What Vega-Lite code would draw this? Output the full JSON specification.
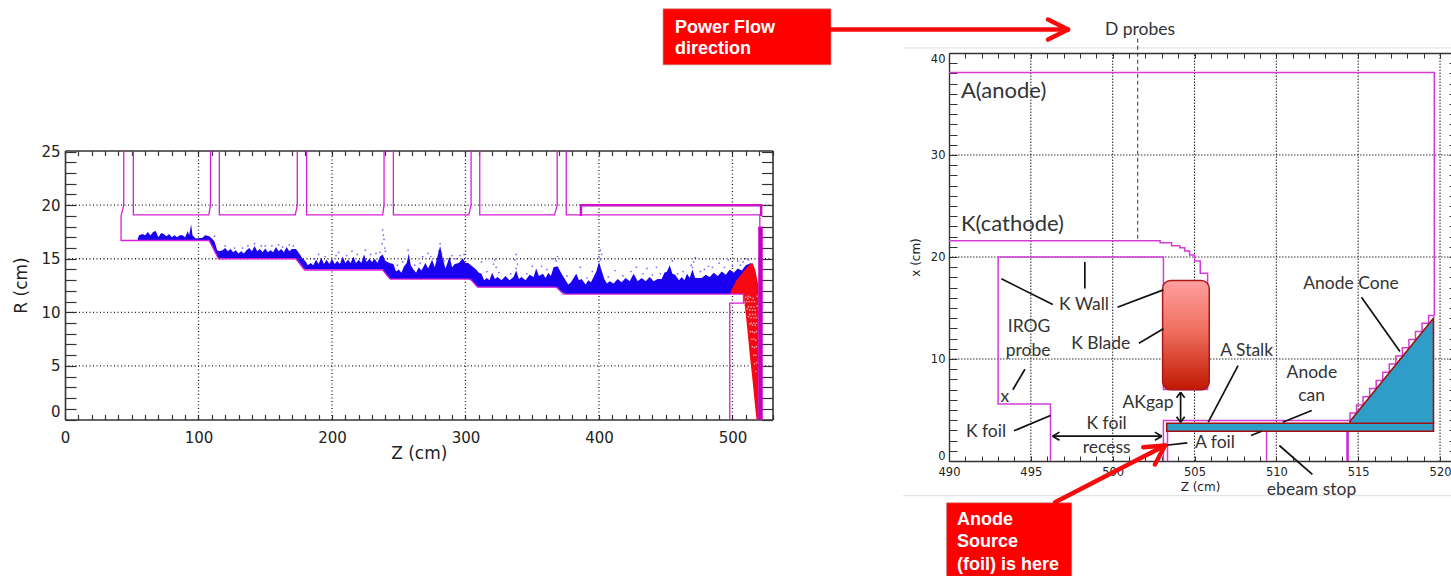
{"$schema":"https://vega.github.io/schema/vega-lite/v6.json","background":"white","padding":{"left":12,"top":8,"right":0,"bottom":0},"bounds":"flush","spacing":176,"config":{"view":{"stroke":null}},"datasets":{
"lGridX":[{"z":100,"r":0,"r2":25.1},{"z":200,"r":0,"r2":25.1},{"z":300,"r":0,"r2":25.1},{"z":400,"r":0,"r2":25.1},{"z":500,"r":0,"r2":25.1}],
"lGridY":[{"z":0,"z2":530,"r":5},{"z":0,"z2":530,"r":10},{"z":0,"z2":530,"r":15},{"z":0,"z2":530,"r":20}],
"lThin":[
{"p":"a","o":1,"z":498.5,"r":11.7},{"p":"a","o":2,"z":373.5,"r":11.7},{"p":"a","o":3,"z":368,"r":12.35},{"p":"a","o":4,"z":309,"r":12.35},{"p":"a","o":5,"z":303.7,"r":13.1},{"p":"a","o":6,"z":243.7,"r":13.1},{"p":"a","o":7,"z":238,"r":13.95},{"p":"a","o":8,"z":179.5,"r":13.95},{"p":"a","o":9,"z":173,"r":15},{"p":"a","o":10,"z":115,"r":15},{"p":"a","o":11,"z":108,"r":16.7},{"p":"a","o":12,"z":42,"r":16.7},{"p":"a","o":13,"z":42,"r":19},{"p":"a","o":14,"z":44,"r":20},{"p":"a","o":15,"z":44,"r":25.1},
{"p":"b","o":1,"z":51.2,"r":25.1},{"p":"b","o":2,"z":51.2,"r":19.1},{"p":"b","o":3,"z":107.7,"r":19.1},{"p":"b","o":4,"z":109,"r":20},{"p":"b","o":5,"z":109,"r":25.1},
{"p":"c","o":1,"z":115.6,"r":25.1},{"p":"c","o":2,"z":115.6,"r":19.1},{"p":"c","o":3,"z":172.5,"r":19.1},{"p":"c","o":4,"z":174,"r":20},{"p":"c","o":5,"z":174,"r":25.1},
{"p":"d","o":1,"z":181,"r":25.1},{"p":"d","o":2,"z":181,"r":19.1},{"p":"d","o":3,"z":238,"r":19.1},{"p":"d","o":4,"z":239,"r":20},{"p":"d","o":5,"z":239,"r":25.1},
{"p":"e","o":1,"z":246,"r":25.1},{"p":"e","o":2,"z":246,"r":19.1},{"p":"e","o":3,"z":302.5,"r":19.1},{"p":"e","o":4,"z":304.2,"r":20},{"p":"e","o":5,"z":304.2,"r":25.1},
{"p":"f","o":1,"z":310.7,"r":25.1},{"p":"f","o":2,"z":310.7,"r":19.1},{"p":"f","o":3,"z":366.7,"r":19.1},{"p":"f","o":4,"z":368.7,"r":20},{"p":"f","o":5,"z":368.7,"r":25.1},
{"p":"g","o":1,"z":375.5,"r":25.1},{"p":"g","o":2,"z":375.5,"r":19.1},{"p":"g","o":3,"z":520.5,"r":19.1},{"p":"g","o":4,"z":520.5,"r":18},
{"p":"h","o":1,"z":498,"r":0},{"p":"h","o":2,"z":498,"r":10.85},{"p":"h","o":3,"z":508.3,"r":10.85},{"p":"h","o":4,"z":508.3,"r":11.7},{"p":"h","o":5,"z":498.5,"r":11.7}],
"lThick":[{"p":"a","o":1,"z":386.5,"r":19},{"p":"a","o":2,"z":386.5,"r":20},{"p":"a","o":3,"z":521.5,"r":20},{"p":"a","o":4,"z":521.5,"r":19}],
"lWall":[{"p":"a","o":1,"z":521,"r":18},{"p":"a","o":2,"z":521,"r":0}],
"blue":[
{"z":54.5,"r":16.9,"r2":16.7},{"z":55.5,"r":17.2,"r2":16.7},{"z":58,"r":17.3,"r2":16.7},{"z":60,"r":17.2,"r2":16.7},{"z":62,"r":17.5,"r2":16.7},{"z":64,"r":17.2,"r2":16.7},{"z":66,"r":17.5,"r2":16.7},{"z":68,"r":17.6,"r2":16.7},{"z":70,"r":17,"r2":16.7},{"z":72,"r":17.4,"r2":16.7},{"z":74,"r":17.3,"r2":16.7},{"z":76,"r":17.1,"r2":16.7},{"z":78,"r":17.3,"r2":16.7},{"z":80,"r":17,"r2":16.7},{"z":82,"r":17.2,"r2":16.7},{"z":84,"r":17,"r2":16.7},{"z":86,"r":17.2,"r2":16.7},{"z":88,"r":17.2,"r2":16.7},{"z":90,"r":17,"r2":16.7},{"z":92,"r":17.6,"r2":16.7},{"z":93,"r":17.2,"r2":16.7},{"z":94.5,"r":18.2,"r2":16.7},{"z":95.5,"r":17.2,"r2":16.7},{"z":98,"r":16.9,"r2":16.7},{"z":103,"r":16.95,"r2":16.7},{"z":105,"r":17.2,"r2":16.7},{"z":108,"r":17.1,"r2":16.7},{"z":110,"r":16.9,"r2":16.2},{"z":112,"r":16.6,"r2":15.7},{"z":114,"r":15.8,"r2":15.2},
{"z":115.5,"r":15.7,"r2":15},{"z":118,"r":15.8,"r2":15},{"z":120,"r":16,"r2":15},{"z":122,"r":15.7,"r2":15},{"z":124,"r":15.9,"r2":15},{"z":126,"r":15.6,"r2":15},{"z":128,"r":15.8,"r2":15},{"z":130,"r":15.5,"r2":15},{"z":132,"r":15.7,"r2":15},{"z":134,"r":15.5,"r2":15},{"z":136,"r":15.8,"r2":15},{"z":138,"r":16,"r2":15},{"z":140,"r":15.7,"r2":15},{"z":142,"r":16.2,"r2":15},{"z":144,"r":15.7,"r2":15},{"z":146,"r":15.9,"r2":15},{"z":148,"r":15.6,"r2":15},{"z":150,"r":15.95,"r2":15},{"z":152,"r":15.6,"r2":15},{"z":154,"r":15.8,"r2":15},{"z":156,"r":15.6,"r2":15},{"z":158,"r":16.1,"r2":15},{"z":160,"r":15.7,"r2":15},{"z":162,"r":15.9,"r2":15},{"z":164,"r":15.6,"r2":15},{"z":166,"r":16.1,"r2":15},{"z":168,"r":15.7,"r2":15},{"z":170,"r":15.9,"r2":15},{"z":173,"r":15.9,"r2":15},{"z":176,"r":15.4,"r2":14.5},{"z":178,"r":15,"r2":14.2},
{"z":180,"r":14.8,"r2":14},{"z":182,"r":14.4,"r2":14},{"z":184,"r":14.6,"r2":14},{"z":186,"r":14.4,"r2":14},{"z":188,"r":14.9,"r2":14},{"z":190,"r":14.5,"r2":14},{"z":192,"r":15.1,"r2":14},{"z":194,"r":14.5,"r2":14},{"z":196,"r":14.9,"r2":14},{"z":198,"r":14.5,"r2":14},{"z":200,"r":15,"r2":14},{"z":202,"r":14.5,"r2":14},{"z":204,"r":14.8,"r2":14},{"z":206,"r":14.5,"r2":14},{"z":208,"r":15.2,"r2":14},{"z":210,"r":14.6,"r2":14},{"z":212,"r":14.9,"r2":14},{"z":214,"r":14.6,"r2":14},{"z":216,"r":15.2,"r2":14},{"z":218,"r":14.6,"r2":14},{"z":220,"r":14.9,"r2":14},{"z":222,"r":14.6,"r2":14},{"z":224,"r":15.4,"r2":14},{"z":226,"r":14.7,"r2":14},{"z":228,"r":15,"r2":14},{"z":230,"r":14.7,"r2":14},{"z":232,"r":15,"r2":14},{"z":234,"r":14.6,"r2":14},{"z":236,"r":15.2,"r2":14},{"z":238,"r":15.4,"r2":14},{"z":240,"r":14.8,"r2":13.6},{"z":243,"r":14.6,"r2":13.1},
{"z":246,"r":14.5,"r2":13.1},{"z":248,"r":13.8,"r2":13.1},{"z":250,"r":14,"r2":13.1},{"z":252,"r":13.7,"r2":13.1},{"z":254,"r":14.3,"r2":13.1},{"z":256,"r":14.6,"r2":13.1},{"z":257.5,"r":15.5,"r2":13.1},{"z":259,"r":14.4,"r2":13.1},{"z":261,"r":14,"r2":13.1},{"z":263,"r":13.7,"r2":13.1},{"z":265,"r":14.2,"r2":13.1},{"z":267,"r":13.9,"r2":13.1},{"z":270,"r":14.6,"r2":13.1},{"z":272,"r":14.1,"r2":13.1},{"z":275,"r":14.9,"r2":13.1},{"z":277,"r":14.2,"r2":13.1},{"z":279,"r":15.2,"r2":13.1},{"z":281,"r":16.2,"r2":13.1},{"z":283,"r":15,"r2":13.1},{"z":285,"r":14.1,"r2":13.1},{"z":286.5,"r":14.6,"r2":13.1},{"z":288,"r":15.2,"r2":13.1},{"z":290,"r":14.2,"r2":13.1},{"z":292,"r":14.5,"r2":13.1},{"z":295,"r":14.6,"r2":13.1},{"z":298,"r":15.05,"r2":13.1},{"z":300,"r":14.6,"r2":13.1},{"z":302,"r":14.6,"r2":13.1},{"z":305,"r":14.3,"r2":12.9},{"z":308,"r":14,"r2":12.5},
{"z":310,"r":13.7,"r2":12.35},{"z":312,"r":13.6,"r2":12.35},{"z":314,"r":13,"r2":12.35},{"z":316,"r":13.2,"r2":12.35},{"z":318,"r":13,"r2":12.35},{"z":320,"r":13.7,"r2":12.35},{"z":322,"r":13.1,"r2":12.35},{"z":324,"r":13.3,"r2":12.35},{"z":327,"r":13,"r2":12.35},{"z":330,"r":13.4,"r2":12.35},{"z":333,"r":13,"r2":12.35},{"z":336,"r":13.3,"r2":12.35},{"z":338,"r":13.9,"r2":12.35},{"z":340,"r":13.1,"r2":12.35},{"z":342,"r":13.3,"r2":12.35},{"z":345,"r":13,"r2":12.35},{"z":348,"r":13.5,"r2":12.35},{"z":351,"r":13.3,"r2":12.35},{"z":353,"r":14.1,"r2":12.35},{"z":355,"r":13.4,"r2":12.35},{"z":358,"r":13.6,"r2":12.35},{"z":360,"r":13.2,"r2":12.35},{"z":362,"r":13.7,"r2":12.35},{"z":364,"r":13.4,"r2":12.35},{"z":366,"r":14.2,"r2":12.35},{"z":369,"r":14.3,"r2":12.3},{"z":372,"r":13.6,"r2":11.9},
{"z":375,"r":13,"r2":11.7},{"z":377,"r":12.6,"r2":11.7},{"z":379,"r":12.8,"r2":11.7},{"z":381,"r":13.2,"r2":11.7},{"z":383,"r":13.6,"r2":11.7},{"z":385,"r":13,"r2":11.7},{"z":387,"r":13.1,"r2":11.7},{"z":390,"r":12.6,"r2":11.7},{"z":392,"r":13,"r2":11.7},{"z":394,"r":12.8,"r2":11.7},{"z":396,"r":13.3,"r2":11.7},{"z":398,"r":13.8,"r2":11.7},{"z":400,"r":14.7,"r2":11.7},{"z":402,"r":13.9,"r2":11.7},{"z":404,"r":13.1,"r2":11.7},{"z":406,"r":12.7,"r2":11.7},{"z":408,"r":12.9,"r2":11.7},{"z":411,"r":12.7,"r2":11.7},{"z":414,"r":13.1,"r2":11.7},{"z":417,"r":12.8,"r2":11.7},{"z":420,"r":13.2,"r2":11.7},{"z":423,"r":12.9,"r2":11.7},{"z":426,"r":13.6,"r2":11.7},{"z":429,"r":12.9,"r2":11.7},{"z":432,"r":13.2,"r2":11.7},{"z":435,"r":12.9,"r2":11.7},{"z":438,"r":13.3,"r2":11.7},{"z":441,"r":12.9,"r2":11.7},{"z":444,"r":13.1,"r2":11.7},{"z":447,"r":13.1,"r2":11.7},{"z":449,"r":13.7,"r2":11.7},{"z":451,"r":13.8,"r2":11.7},{"z":453,"r":14.4,"r2":11.7},{"z":455,"r":13.6,"r2":11.7},{"z":457,"r":13.5,"r2":11.7},{"z":460,"r":13,"r2":11.7},{"z":462,"r":13.3,"r2":11.7},{"z":464,"r":13,"r2":11.7},{"z":466,"r":13.6,"r2":11.7},{"z":468,"r":13.2,"r2":11.7},{"z":470,"r":14,"r2":11.7},{"z":472,"r":13.2,"r2":11.7},{"z":474,"r":13.2,"r2":11.7},{"z":477,"r":13.2,"r2":11.7},{"z":480,"r":13.5,"r2":11.7},{"z":483,"r":13.3,"r2":11.7},{"z":486,"r":13.7,"r2":11.7},{"z":489,"r":13.4,"r2":11.7},{"z":492,"r":13.8,"r2":11.7},{"z":495,"r":13.5,"r2":11.7},{"z":498,"r":14,"r2":11.7},{"z":501,"r":13.7,"r2":11.7},{"z":504,"r":14.1,"r2":11.7},{"z":507,"r":13.9,"r2":11.7},{"z":510,"r":14.4,"r2":11.7},{"z":514,"r":14.6,"r2":11.7}],
"bluePts":[{"z":238,"r":17.7},{"z":238.5,"r":17.2},{"z":239,"r":16.8},{"z":237.5,"r":16.4},{"z":239.5,"r":16},{"z":240,"r":15.7},{"z":236,"r":15.6},{"z":281,"r":16.4},{"z":280,"r":15.7},{"z":282,"r":15.5},{"z":279,"r":14.9},{"z":257,"r":15.8},{"z":338,"r":15.4},{"z":337,"r":14.9},{"z":339,"r":14.5},{"z":338,"r":14.1},{"z":322,"r":14.9},{"z":321,"r":14.5},{"z":323,"r":14.2},{"z":369,"r":15.2},{"z":368,"r":14.8},{"z":366,"r":15},{"z":401,"r":15.8},{"z":402,"r":15.4},{"z":400,"r":15.2},{"z":401,"r":14.9},{"z":472,"r":15.1},{"z":471,"r":14.7},{"z":469,"r":14.4},{"z":470,"r":14.2},{"z":455,"r":14.8},{"z":436,"r":14.1},{"z":443,"r":14.2},{"z":490,"r":14.6},{"z":497,"r":14.9},{"z":504,"r":14.8},{"z":510,"r":15},{"z":482,"r":14.3},{"z":508,"r":14.7},{"z":386,"r":14.2},{"z":412,"r":13.9},{"z":428,"r":14.2},{"z":350,"r":14.3},{"z":357,"r":14.3},{"z":312,"r":14.7},{"z":316,"r":13.8},{"z":268,"r":15.2},{"z":272,"r":15.5},{"z":290,"r":15.3},{"z":296,"r":15.3},{"z":225,"r":15.8},{"z":205,"r":15.6},{"z":190,"r":15.4},{"z":215,"r":15.7},{"z":142,"r":16.4},{"z":160,"r":16.3},{"z":168,"r":16.3},{"z":150,"r":16.2},{"z":120,"r":16.2},{"z":112,"r":17.1},{"z":325,"r":13.7},{"z":334,"r":13.6},{"z":346,"r":13.6},{"z":361,"r":14},{"z":376,"r":13.4},{"z":391,"r":13.2},{"z":395,"r":13.8},{"z":407,"r":13.3},{"z":418,"r":13.4},{"z":424,"r":13.8},{"z":433,"r":13.6},{"z":440,"r":13.5},{"z":446,"r":13.6},{"z":459,"r":13.6},{"z":463,"r":13.8},{"z":476,"r":13.8},{"z":479,"r":14},{"z":485,"r":14.2},{"z":494,"r":14.2},{"z":500,"r":14.3},{"z":506,"r":14.4},{"z":512,"r":14.9},{"z":187,"r":15},{"z":195,"r":15.2},{"z":203,"r":15.3},{"z":211,"r":15.3},{"z":219,"r":15.4},{"z":229,"r":15.4},{"z":233,"r":15.5},{"z":249,"r":14.4},{"z":253,"r":14.7},{"z":262,"r":14.4},{"z":266,"r":14.6},{"z":274,"r":15.2},{"z":284,"r":14.8},{"z":293,"r":15},{"z":299,"r":15.4},{"z":127,"r":16},{"z":133,"r":16},{"z":137,"r":16.2},{"z":147,"r":16.2},{"z":155,"r":16.2},{"z":163,"r":16.1},{"z":171,"r":16.2}],
"redFan":[{"z":498.5,"r":11.9,"r2":11.7},{"z":503,"r":13,"r2":11.7},{"z":508.3,"r":13.8,"r2":11.7},{"z":511,"r":14.2,"r2":8.6},{"z":513,"r":14.5,"r2":6},{"z":515,"r":14.6,"r2":3.7},{"z":517,"r":14,"r2":1.2},{"z":518,"r":13.4,"r2":0},{"z":519.5,"r":12.5,"r2":0}],
"redWhite":[{"z":510.5,"r":11},{"z":511.5,"r":11.3},{"z":512.5,"r":11},{"z":513.5,"r":11.4},{"z":514.5,"r":11},{"z":515.5,"r":11.3},{"z":516.5,"r":11},{"z":511,"r":10.3},{"z":512,"r":10.5},{"z":513,"r":10.2},{"z":514,"r":10.5},{"z":515,"r":10.2},{"z":516,"r":10.5},{"z":517,"r":10.2},{"z":512,"r":9.6},{"z":513,"r":9.8},{"z":514,"r":9.5},{"z":515,"r":9.8},{"z":516,"r":9.5},{"z":517,"r":9.8},{"z":518,"r":9.5},{"z":513,"r":8.9},{"z":514,"r":9},{"z":515,"r":8.8},{"z":516,"r":9},{"z":517,"r":8.8},{"z":518,"r":9},{"z":513.5,"r":8.2},{"z":515,"r":8.2},{"z":516.5,"r":8.1},{"z":518,"r":8.2},{"z":514.5,"r":7.5},{"z":516,"r":7.5},{"z":517.5,"r":7.4},{"z":515,"r":6.8},{"z":516.5,"r":6.7},{"z":518,"r":6.8},{"z":516,"r":6},{"z":517.5,"r":6},{"z":516.5,"r":5.2},{"z":518,"r":5.3},{"z":517.5,"r":4.5},{"z":518.5,"r":11.5},{"z":518.5,"r":10.6},{"z":510,"r":11.4},{"z":512,"r":11.5}],
"rGridX":[{"z":495,"r":0,"r2":40},{"z":500,"r":0,"r2":40},{"z":505,"r":0,"r2":40},{"z":510,"r":0,"r2":40},{"z":515,"r":0,"r2":40},{"z":520,"r":0,"r2":40}],
"rGridY":[{"z":490,"z2":520.67,"r":10},{"z":490,"z2":520.67,"r":20},{"z":490,"z2":520.67,"r":30}],
"slideEdges":[{"z":487.2,"z2":520.67,"r":40.5,"r2":40.5},{"z":487.2,"z2":520.67,"r":-3.4,"r2":-3.4}],
"rLines":[
{"p":"a","o":1,"z":490,"r":38.1},{"p":"a","o":2,"z":519.65,"r":38.1},{"p":"a","o":3,"z":519.65,"r":14.26},{"p":"a","o":4,"z":519.3,"r":14.26},{"p":"a","o":5,"z":519.3,"r":13.5},{"p":"a","o":6,"z":518.9,"r":13.5},{"p":"a","o":7,"z":518.9,"r":12.7},{"p":"a","o":8,"z":518.5,"r":12.7},{"p":"a","o":9,"z":518.5,"r":11.9},{"p":"a","o":10,"z":518.1,"r":11.9},{"p":"a","o":11,"z":518.1,"r":11.1},{"p":"a","o":12,"z":517.7,"r":11.1},{"p":"a","o":13,"z":517.7,"r":10.3},{"p":"a","o":14,"z":517.3,"r":10.3},{"p":"a","o":15,"z":517.3,"r":9.5},{"p":"a","o":16,"z":516.9,"r":9.5},{"p":"a","o":17,"z":516.9,"r":8.7},{"p":"a","o":18,"z":516.5,"r":8.7},{"p":"a","o":19,"z":516.5,"r":7.9},{"p":"a","o":20,"z":516.1,"r":7.9},{"p":"a","o":21,"z":516.1,"r":7.1},{"p":"a","o":22,"z":515.7,"r":7.1},{"p":"a","o":23,"z":515.7,"r":6.3},{"p":"a","o":24,"z":515.3,"r":6.3},{"p":"a","o":25,"z":515.3,"r":5.5},{"p":"a","o":26,"z":514.9,"r":5.5},{"p":"a","o":27,"z":514.9,"r":4.7},{"p":"a","o":28,"z":514.5,"r":4.7},{"p":"a","o":29,"z":514.5,"r":3.97},{"p":"a","o":30,"z":503.1,"r":3.97},{"p":"a","o":31,"z":503.1,"r":0},
{"p":"k","o":1,"z":490,"r":21.6},{"p":"k","o":2,"z":502.9,"r":21.6},{"p":"k","o":3,"z":502.9,"r":21.4},{"p":"k","o":4,"z":503.6,"r":21.4},{"p":"k","o":5,"z":503.6,"r":21.1},{"p":"k","o":6,"z":504.1,"r":21.1},{"p":"k","o":7,"z":504.1,"r":20.9},{"p":"k","o":8,"z":504.4,"r":20.9},{"p":"k","o":9,"z":504.4,"r":20.6},{"p":"k","o":10,"z":504.7,"r":20.6},{"p":"k","o":11,"z":504.7,"r":20.2},{"p":"k","o":12,"z":505,"r":20.2},{"p":"k","o":13,"z":505,"r":19.6},{"p":"k","o":14,"z":505.35,"r":19.6},{"p":"k","o":15,"z":505.35,"r":18.4},{"p":"k","o":16,"z":505.8,"r":18.4},{"p":"k","o":17,"z":505.8,"r":7},{"p":"k","o":18,"z":503.1,"r":7},{"p":"k","o":19,"z":503.1,"r":20},{"p":"k","o":20,"z":493,"r":20},{"p":"k","o":21,"z":493,"r":5.6},{"p":"k","o":22,"z":496.2,"r":5.6},{"p":"k","o":23,"z":496.2,"r":0},
{"p":"f","o":1,"z":503.35,"r":3.6},{"p":"f","o":2,"z":503.35,"r":0},
{"p":"s","o":1,"z":509.4,"r":3},{"p":"s","o":2,"z":509.4,"r":0}],
"rThick":[{"p":"t","o":1,"z":514.35,"r":3},{"p":"t","o":2,"z":514.35,"r":0}],
"teal":[{"z":503.3,"z2":519.6,"r":3.7,"r2":2.92}],
"cone":[{"z":514.5,"r":3.9,"r2":3.7},{"z":519.6,"r":14,"r2":3.7}],
"blade":[{"z":503.05,"z2":505.9,"r":17.7,"r2":6.98}],
"callouts":[{"z":493.2,"r":17.86,"z2":496.34,"r2":15.34},{"z":498.3,"r":19.5,"z2":498.3,"r2":16.9},{"z":500.29,"r":15.08,"z2":503.1,"r2":16.78},{"z":501.6,"r":11.55,"z2":503.1,"r2":12.96},{"z":494.64,"r":9,"z2":493.9,"r2":6.98},{"z":493.97,"r":2.96,"z2":496.2,"r2":4.46},{"z":503.14,"r":1.52,"z2":504.56,"r2":1.78},{"z":507.66,"r":9.36,"z2":505.84,"r2":3.81},{"z":512.16,"r":4.95,"z2":510.39,"r2":3.8},{"z":509.1,"r":2.92,"z2":508.45,"r2":2.5},{"z":510.18,"r":1.52,"z2":512.2,"r2":-1.32},{"z":515.2,"r":16.06,"z2":517.55,"r2":10.73},
{"z":504.15,"r":6.75,"z2":504.15,"r2":3.8},{"z":504.15,"r":6.75,"z2":503.9,"r2":6.2},{"z":504.15,"r":6.75,"z2":504.4,"r2":6.2},{"z":504.15,"r":3.8,"z2":503.9,"r2":4.35},{"z":504.15,"r":3.8,"z2":504.4,"r2":4.35},
{"z":496.33,"r":2.43,"z2":503,"r2":2.43},{"z":496.33,"r":2.43,"z2":496.75,"r2":2.83},{"z":496.33,"r":2.43,"z2":496.75,"r2":2.03},{"z":503,"r":2.43,"z2":502.58,"r2":2.83},{"z":503,"r":2.43,"z2":502.58,"r2":2.03}],
"probe":[{"z":501.53,"r":41.4,"z2":501.53,"r2":21.8}],
"redBoxes":[{"z":472.53,"z2":482.79,"r":44.33,"r2":38.84},{"z":489.85,"z2":497.5,"r":-4.1,"r2":-11.32}],
"redArrows":[{"z":482.79,"r":42.3,"z2":497.27,"r2":42.3},{"z":496.05,"r":43.28,"z2":497.27,"r2":42.3},{"z":496.05,"r":41.32,"z2":497.27,"r2":42.3},{"z":496.48,"r":-4.04,"z2":503.2,"r2":1.52},{"z":501.87,"r":1.35,"z2":503.2,"r2":1.52},{"z":502.58,"r":-0.34,"z2":503.2,"r2":1.52}],
"bigText":[{"z":490.73,"r":36.32,"t":"A(anode)"},{"z":490.73,"r":23.28,"t":"K(cathode)"}],
"midText":[{"z":498.25,"r":15.34,"t":"K Wall"},{"z":494.89,"r":13.1,"t":"IROG"},{"z":494.83,"r":10.83,"t":"probe"},{"z":499.27,"r":11.49,"t":"K Blade"},{"z":502.16,"r":5.67,"t":"AKgap"},{"z":492.26,"r":2.89,"t":"K foil"},{"z":499.63,"r":3.58,"t":"K foil"},{"z":499.63,"r":1.25,"t":"recess"},{"z":506.25,"r":1.72,"t":"A foil"},{"z":508.19,"r":10.76,"t":"A Stalk"},{"z":512.17,"r":8.65,"t":"Anode"},{"z":512.15,"r":6.35,"t":"can"},{"z":512.15,"r":-2.89,"t":"ebeam stop"},{"z":514.56,"r":17.4,"t":"Anode Cone"},{"z":501.67,"r":42.3,"t":"D probes"},{"z":493.42,"r":6.25,"t":"x"}],
"whiteText":[{"z":473.26,"r":42.5,"t":"Power Flow"},{"z":473.26,"r":40.44,"t":"direction"},{"z":490.49,"r":-5.83,"t":"Anode"},{"z":490.49,"r":-7.99,"t":"Source"},{"z":490.49,"r":-10.15,"t":"(foil) is here"}]
},
"hconcat":[
{"width":707.5,"height":408,"resolve":{"axis":{"x":"independent","y":"independent"}},
"encoding":{
"x":{"field":"z","type":"quantitative","scale":{"domain":[0,530],"nice":false,"zero":false},"axis":null},
"y":{"field":"r","type":"quantitative","scale":{"domain":[0,25.1],"range":[366.5,97.5],"nice":false,"zero":false},"axis":null}},
"layer":[
{"data":{"name":"lGridX"},"mark":{"type":"rule","color":"#222","strokeDash":[1,2.5],"strokeWidth":1.3},
"encoding":{"x":{"field":"z","type":"quantitative","scale":{"domain":[0,530],"nice":false,"zero":false},
"axis":{"orient":"bottom","offset":-41.5,"title":"Z (cm)","values":[0,10,20,30,40,50,60,70,80,90,100,110,120,130,140,150,160,170,180,190,200,210,220,230,240,250,260,270,280,290,300,310,320,330,340,350,360,370,380,390,400,410,420,430,440,450,460,470,480,490,500,510,520,530],"labelExpr":"datum.value%100==0?datum.label:''","labelOverlap":false,"labelFlush":false,"labelBound":false,"grid":false,"tickSize":-5,"tickColor":"#333","tickWidth":1.2,"domainColor":"#333","domainWidth":1.6,"labelFont":"DejaVu Sans","labelFontSize":15,"labelColor":"#222","labelPadding":16,"titleFont":"DejaVu Sans","titleFontSize":17,"titleFontWeight":"normal","titleColor":"#222","titlePadding":0}},
"y":{"field":"r","type":"quantitative","scale":{"domain":[0,25.1],"range":[366.5,97.5],"nice":false,"zero":false},
"axis":{"orient":"left","title":"R (cm)","values":[0,1,2,3,4,5,6,7,8,9,10,11,12,13,14,15,16,17,18,19,20,21,22,23,24,25],"labelExpr":"datum.value%5==0?datum.label:''","labelOverlap":false,"labelFlush":true,"labelBound":false,"grid":false,"tickSize":-11,"tickColor":"#333","tickWidth":1.2,"domainColor":"#333","domainWidth":1.6,"labelFont":"DejaVu Sans","labelFontSize":15,"labelColor":"#222","labelPadding":16,"titleFont":"DejaVu Sans","titleFontSize":17,"titleFontWeight":"normal","titleColor":"#222","titlePadding":10}},
"y2":{"field":"r2"}}},
{"data":{"name":"lGridY"},"mark":{"type":"rule","color":"#222","strokeDash":[1,2.5],"strokeWidth":1.3},
"encoding":{"x":{"field":"z","type":"quantitative","scale":{"domain":[0,530],"nice":false,"zero":false},
"axis":{"orient":"top","offset":-97.5,"title":null,"values":[0,10,20,30,40,50,60,70,80,90,100,110,120,130,140,150,160,170,180,190,200,210,220,230,240,250,260,270,280,290,300,310,320,330,340,350,360,370,380,390,400,410,420,430,440,450,460,470,480,490,500,510,520,530],"labels":false,"grid":false,"tickSize":-5,"tickColor":"#333","tickWidth":1.2,"domainColor":"#333","domainWidth":1.6}},
"y":{"field":"r","type":"quantitative","scale":{"domain":[0,25.1],"range":[366.5,97.5],"nice":false,"zero":false},
"axis":{"orient":"right","title":null,"values":[0,1,2,3,4,5,6,7,8,9,10,11,12,13,14,15,16,17,18,19,20,21,22,23,24,25],"labels":false,"grid":false,"tickSize":-11,"tickColor":"#333","tickWidth":1.2,"domainColor":"#333","domainWidth":1.6}},
"x2":{"field":"z2"}}},
{"data":{"name":"blue"},"mark":{"type":"area","color":"#1a00f0"},"encoding":{"y2":{"field":"r2"}}},
{"data":{"name":"bluePts"},"mark":{"type":"point","filled":true,"color":"#3a28ff","size":3,"opacity":0.7}},
{"data":{"name":"redFan"},"mark":{"type":"area","color":"#f50a14"},"encoding":{"y2":{"field":"r2"}}},
{"data":{"name":"redWhite"},"mark":{"type":"point","filled":true,"color":"#ffd8d8","size":3}},
{"data":{"name":"lThin"},"mark":{"type":"line","color":"#d61fd6","strokeWidth":1.3},"encoding":{"detail":{"field":"p"},"order":{"field":"o"}}},
{"data":{"name":"lThick"},"mark":{"type":"line","color":"#cc10cc","strokeWidth":2.5},"encoding":{"detail":{"field":"p"},"order":{"field":"o"}}},
{"data":{"name":"lWall"},"mark":{"type":"line","color":"#c400c4","strokeWidth":4.5},"encoding":{"detail":{"field":"p"},"order":{"field":"o"}}}
]},
{"width":502,"height":408,"resolve":{"axis":{"x":"independent","y":"independent"}},
"encoding":{
"x":{"field":"z","type":"quantitative","scale":{"domain":[490,520.67],"nice":false,"zero":false},"axis":null},
"y":{"field":"r","type":"quantitative","scale":{"domain":[0,40],"nice":false,"zero":false},"axis":null}},
"layer":[
{"data":{"name":"rGridX"},"mark":{"type":"rule","color":"#333","strokeDash":[1.5,1.5],"strokeWidth":1.1},
"encoding":{"x":{"field":"z","type":"quantitative","scale":{"domain":[490,520.67],"nice":false,"zero":false},
"axis":{"orient":"bottom","title":"Z (cm)","values":[490,491,492,493,494,495,496,497,498,499,500,501,502,503,504,505,506,507,508,509,510,511,512,513,514,515,516,517,518,519,520],"labelExpr":"datum.value%5==0?datum.label:''","labelOverlap":false,"labelFlush":false,"labelBound":false,"grid":false,"tickSize":-5,"tickColor":"#333","tickWidth":1,"domainColor":"#333","domainWidth":1.4,"labelFont":"DejaVu Sans","labelFontSize":11.5,"labelColor":"#222","labelPadding":10,"titleFont":"DejaVu Sans","titleFontSize":12,"titleFontWeight":"normal","titleColor":"#222","titlePadding":4}},
"y":{"field":"r","type":"quantitative","scale":{"domain":[0,40],"nice":false,"zero":false},
"axis":{"orient":"left","title":"x (cm)","values":[0,1,2,3,4,5,6,7,8,9,10,11,12,13,14,15,16,17,18,19,20,21,22,23,24,25,26,27,28,29,30,31,32,33,34,35,36,37,38,39,40],"labelExpr":"datum.value%10==0?datum.label:''","labelOverlap":false,"labelFlush":true,"labelBound":false,"grid":false,"tickSize":-8,"tickColor":"#333","tickWidth":1,"domainColor":"#333","domainWidth":1.4,"labelFont":"DejaVu Sans","labelFontSize":11.5,"labelColor":"#222","labelPadding":12,"titleFont":"DejaVu Sans","titleFontSize":12,"titleFontWeight":"normal","titleColor":"#222","titlePadding":8}},
"y2":{"field":"r2"}}},
{"data":{"name":"rGridY"},"mark":{"type":"rule","color":"#333","strokeDash":[1.5,1.5],"strokeWidth":1.1},
"encoding":{"x":{"field":"z","type":"quantitative","scale":{"domain":[490,520.67],"nice":false,"zero":false},
"axis":{"orient":"top","title":null,"values":[490,491,492,493,494,495,496,497,498,499,500,501,502,503,504,505,506,507,508,509,510,511,512,513,514,515,516,517,518,519,520],"labels":false,"grid":false,"tickSize":-5,"tickColor":"#333","tickWidth":1,"domainColor":"#333","domainWidth":1.4}},
"y":{"field":"r","type":"quantitative","scale":{"domain":[0,40],"nice":false,"zero":false},
"axis":{"orient":"right","title":null,"values":[0,1,2,3,4,5,6,7,8,9,10,11,12,13,14,15,16,17,18,19,20,21,22,23,24,25,26,27,28,29,30,31,32,33,34,35,36,37,38,39,40],"labels":false,"grid":false,"tickSize":-2,"tickColor":"#333","tickWidth":1,"domain":false}},
"x2":{"field":"z2"}}},
{"data":{"name":"slideEdges"},"mark":{"type":"rule","color":"#dddddd","strokeWidth":1},"encoding":{"x2":{"field":"z2"},"y2":{"field":"r2"}}},
{"data":{"name":"rLines"},"mark":{"type":"line","color":"#d43cd8","strokeWidth":1.5},"encoding":{"detail":{"field":"p"},"order":{"field":"o"}}},
{"data":{"name":"rThick"},"mark":{"type":"line","color":"#cc22dd","strokeWidth":2.5},"encoding":{"detail":{"field":"p"},"order":{"field":"o"}}},
{"data":{"name":"teal"},"mark":{"type":"rect","fill":"#2e9dc8","stroke":"#a01010","strokeWidth":1.6},"encoding":{"x2":{"field":"z2"},"y2":{"field":"r2"}}},
{"data":{"name":"cone"},"mark":{"type":"area","fill":"#2e9dc8","stroke":"#a01010","strokeWidth":1.6},"encoding":{"y2":{"field":"r2"}}},
{"data":{"name":"blade"},"mark":{"type":"rect","cornerRadius":8,"stroke":"#a81818","strokeWidth":1.5,"fill":{"x1":0,"y1":0,"x2":0,"y2":1,"gradient":"linear","stops":[{"offset":0,"color":"#ffa0a0"},{"offset":0.45,"color":"#f07060"},{"offset":1,"color":"#c01800"}]}},"encoding":{"x2":{"field":"z2"},"y2":{"field":"r2"}}},
{"data":{"name":"probe"},"mark":{"type":"rule","color":"#333","strokeDash":[4,3],"strokeWidth":1},"encoding":{"x2":{"field":"z2"},"y2":{"field":"r2"}}},
{"data":{"name":"callouts"},"mark":{"type":"rule","color":"#111","strokeWidth":1.7},"encoding":{"x2":{"field":"z2"},"y2":{"field":"r2"}}},
{"data":{"name":"bigText"},"mark":{"type":"text","font":"Lato","fontSize":22,"align":"left","baseline":"middle","color":"#333"},"encoding":{"text":{"field":"t"}}},
{"data":{"name":"midText"},"mark":{"type":"text","font":"Lato","fontSize":17.5,"align":"center","baseline":"middle","color":"#333"},"encoding":{"text":{"field":"t"}}},
{"data":{"name":"redBoxes"},"mark":{"type":"rect","fill":"#ff0000","stroke":"#b88","strokeWidth":0.6},"encoding":{"x2":{"field":"z2"},"y2":{"field":"r2"}}},
{"data":{"name":"redArrows"},"mark":{"type":"rule","color":"#f80a0a","strokeWidth":4.5,"strokeCap":"round"},"encoding":{"x2":{"field":"z2"},"y2":{"field":"r2"}}},
{"data":{"name":"whiteText"},"mark":{"type":"text","font":"Liberation Sans","fontWeight":"bold","fontSize":18,"align":"left","baseline":"middle","color":"#fff"},"encoding":{"text":{"field":"t"}}}
]}
],"resolve":{"scale":{"x":"independent","y":"independent"}}}
